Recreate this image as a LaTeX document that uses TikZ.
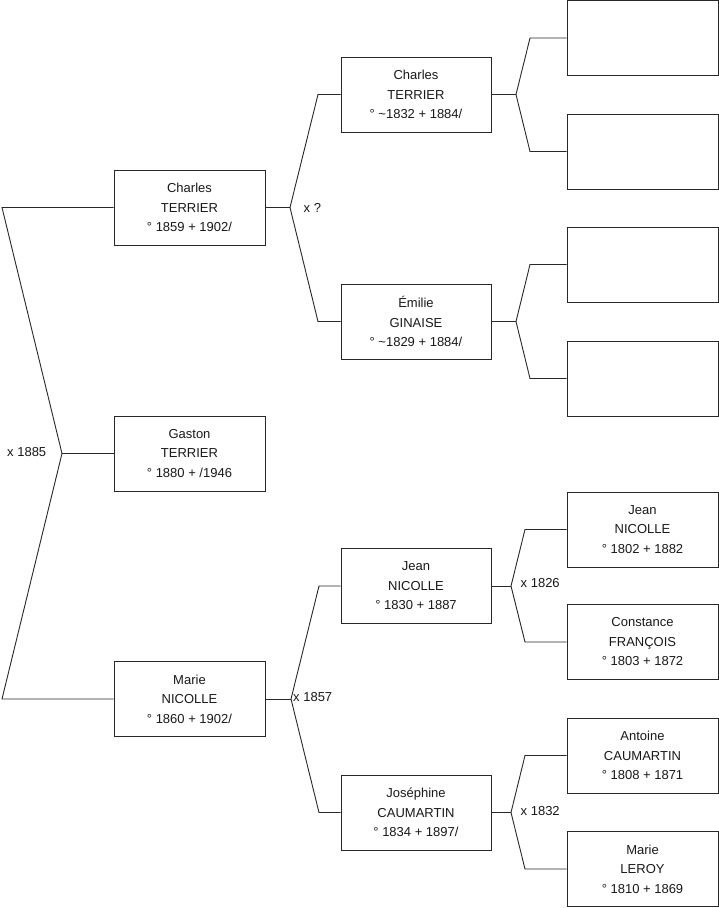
\documentclass[tikz,border=0pt]{standalone}
\usepackage{fontspec}
\setmainfont{Liberation Sans}
\definecolor{ln}{RGB}{40,40,40}
\begin{document}
\begin{tikzpicture}[x=1pt,y=-1pt,
  person/.style={draw=ln,line width=0.9pt,rectangle,minimum width=151pt,minimum height=75pt,
    align=center,font=\fontsize{13}{19.5}\selectfont,inner sep=0pt,text=black!90},
  conn/.style={draw=ln,line width=0.9pt},
  lbl/.style={anchor=west,inner sep=0pt,font=\fontsize{13}{15}\selectfont,text=black!90}]
\useasboundingbox[fill=white] (0,0) rectangle (719,908);
% generation 1
\node[person] (c1) at (189.5,207.5) {Charles\\TERRIER\\° 1859 + 1902/};
\node[person] (g)  at (189.5,453.5) {Gaston\\TERRIER\\° 1880 + /1946};
\node[person] (m1) at (189.5,699)   {Marie\\NICOLLE\\° 1860 + 1902/};
% generation 2
\node[person,minimum width=150pt] (c2) at (416,94.5)  {Charles\\TERRIER\\° \textasciitilde1832 + 1884/};
\node[person,minimum width=150pt] (e2) at (416,321.5) {Émilie\\GINAISE\\° \textasciitilde1829 + 1884/};
\node[person,minimum width=150pt] (j2) at (416,586)   {Jean\\NICOLLE\\° 1830 + 1887};
\node[person,minimum width=150pt] (s2) at (416,812.5) {Joséphine\\CAUMARTIN\\° 1834 + 1897/};
% generation 3
\node[person] (p1) at (642.5,38)    {};
\node[person] (p2) at (642.5,151.5) {};
\node[person] (p3) at (642.5,264.5) {};
\node[person] (p4) at (642.5,378.5) {};
\node[person] (p5) at (642.5,529.5) {Jean\\NICOLLE\\° 1802 + 1882};
\node[person] (p6) at (642.5,642)   {Constance\\FRANÇOIS\\° 1803 + 1872};
\node[person] (p7) at (642.5,755.5) {Antoine\\CAUMARTIN\\° 1808 + 1871};
\node[person] (p8) at (642.5,869)   {Marie\\LEROY\\° 1810 + 1869};
% fork coordinates
\coordinate (f0) at (62,453.5);
\coordinate (t0) at (2,207.5);
\coordinate (b0) at (2,699);
\coordinate (f1) at (290,207.5);
\coordinate (a1) at (318,94.5);
\coordinate (a2) at (318,321.5);
\coordinate (f2) at (291,699);
\coordinate (a3) at (319,586);
\coordinate (a4) at (319,812.5);
\coordinate (f3) at (516,94.5);
\coordinate (d1) at (530,38);
\coordinate (d2) at (530,151.5);
\coordinate (f4) at (516,321.5);
\coordinate (d3) at (530,264.5);
\coordinate (d4) at (530,378.5);
\coordinate (f5) at (511,586);
\coordinate (d5) at (525,529.5);
\coordinate (d6) at (525,642);
\coordinate (f6) at (511,812.5);
\coordinate (d7) at (525,755.5);
\coordinate (d8) at (525,869);
% connectors
\draw[conn] (c1.west) -- (t0) -- (f0) -- (b0) -- (m1.west);
\draw[conn] (f0) -- (g.west);
\draw[conn] (c1.east) -- (f1);
\draw[conn] (c2.west) -- (a1) -- (f1) -- (a2) -- (e2.west);
\draw[conn] (m1.east) -- (f2);
\draw[conn] (j2.west) -- (a3) -- (f2) -- (a4) -- (s2.west);
\draw[conn] (c2.east) -- (f3);
\draw[conn] (p1.west) -- (d1) -- (f3) -- (d2) -- (p2.west);
\draw[conn] (e2.east) -- (f4);
\draw[conn] (p3.west) -- (d3) -- (f4) -- (d4) -- (p4.west);
\draw[conn] (j2.east) -- (f5);
\draw[conn] (p5.west) -- (d5) -- (f5) -- (d6) -- (p6.west);
\draw[conn] (s2.east) -- (f6);
\draw[conn] (p7.west) -- (d7) -- (f6) -- (d8) -- (p8.west);
% marriage labels
\node[lbl] (l0) at (7,452) {x 1885};
\node[lbl] (l1) at (303.5,207.5) {x ?};
\node[lbl] (l2) at (293,697) {x 1857};
\node[lbl] (l3) at (520.5,583.5) {x 1826};
\node[lbl] (l4) at (520.5,811.5) {x 1832};
\end{tikzpicture}
\end{document}
